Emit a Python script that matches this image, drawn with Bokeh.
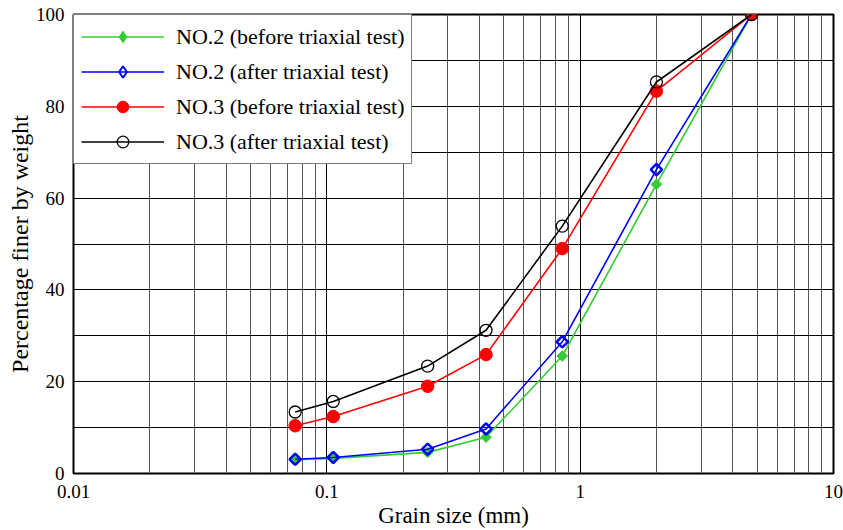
import numpy as np
from bokeh.plotting import figure
from bokeh.models import Range1d, FixedTicker, CustomJSTickFormatter, Legend, LegendItem
from bokeh.embed import file_html
from bokeh.resources import INLINE

# ---- data ----
grain_size = [0.075, 0.106, 0.25, 0.425, 0.85, 2.0, 4.75]
no2_before = [3.0, 3.3, 4.6, 7.9, 25.6, 63.0, 100.0]
no2_after = [3.1, 3.5, 5.3, 9.7, 28.7, 66.2, 100.0]
no3_before = [10.4, 12.4, 19.0, 25.9, 49.0, 83.3, 100.0]
no3_after = [13.4, 15.7, 23.4, 31.2, 53.9, 85.3, 100.0]

x_major = [0.01, 0.1, 1, 10]
x_minor = [m * d for d in [0.01, 0.1, 1] for m in range(2, 10)]
y_major = [0, 20, 40, 60, 80, 100]
y_minor = [10, 30, 50, 70, 90]

labels = ["NO.2 (before triaxial test)", "NO.2 (after triaxial test)",
          "NO.3 (before triaxial test)", "NO.3 (after triaxial test)"]

FONT = "Liberation Serif"

p = figure(width=843, height=530, x_axis_type="log",
           x_range=Range1d(0.01, 10), y_range=Range1d(0, 100),
           output_backend="svg", toolbar_location=None,
           min_border_left=73, min_border_right=10, min_border_top=14,
           min_border_bottom=5)

p.outline_line_color = "black"
p.outline_line_width = 2

p.xaxis.ticker = FixedTicker(ticks=x_major, minor_ticks=x_minor)
p.yaxis.ticker = FixedTicker(ticks=y_major, minor_ticks=y_minor)
p.xaxis.formatter = CustomJSTickFormatter(code="return String(parseFloat(tick.toPrecision(6)));")

for ax in (p.xaxis, p.yaxis):
    ax.axis_line_color = None
    ax.major_tick_in = 0
    ax.major_tick_out = 0
    ax.minor_tick_in = 0
    ax.minor_tick_out = 0
    ax.major_label_text_font = FONT
    ax.major_label_text_font_size = "19px"
    ax.major_label_text_color = "black"
    ax.axis_label_text_font = FONT
    ax.axis_label_text_font_style = "normal"
    ax.axis_label_text_color = "black"

p.xaxis.axis_label = "Grain size (mm)"
p.xaxis.axis_label_text_font_size = "23px"
p.xaxis.major_label_standoff = 11
p.xaxis.axis_label_standoff = 2
p.yaxis.axis_label = "Percentage finer by weight"
p.yaxis.axis_label_text_font_size = "24px"
p.yaxis.major_label_standoff = 9
p.yaxis.axis_label_standoff = 0

p.xgrid.grid_line_color = "black"
p.xgrid.grid_line_width = 1
p.xgrid.minor_grid_line_color = "#555555"
p.xgrid.minor_grid_line_width = 1
p.ygrid.grid_line_color = "black"
p.ygrid.grid_line_width = 1
p.ygrid.minor_grid_line_color = "black"
p.ygrid.minor_grid_line_width = 1

GREEN = "#33cc33"
BLUE = "#0000ff"
RED = "#ff0000"
BLACK = "#000000"

# NO.2 before
g_line = p.line(grain_size, no2_before, line_color=GREEN, line_width=1.6)
p.scatter(grain_size, no2_before, marker="square", angle=np.pi / 4, size=7.5,
          fill_color=GREEN, line_color=GREEN, line_width=1)
g_leg = p.scatter(grain_size, no2_before, marker="diamond", fill_color=GREEN,
                  line_color=GREEN, line_width=1, visible=False)

# NO.2 after
b_line = p.line(grain_size, no2_after, line_color=BLUE, line_width=1.6)
p.scatter(grain_size, no2_after, marker="square", angle=np.pi / 4, size=8,
          fill_color=None, line_color=BLUE, line_width=2.5)
b_leg = p.scatter(grain_size, no2_after, marker="diamond", fill_color=None,
                  line_color=BLUE, line_width=2, visible=False)

# NO.3 before
r_line = p.line(grain_size, no3_before, line_color=RED, line_width=1.6)
r_mk = p.scatter(grain_size, no3_before, marker="circle", size=12.5,
                 fill_color=RED, line_color=RED, line_width=1)

# NO.3 after
k_line = p.line(grain_size, no3_after, line_color=BLACK, line_width=1.6)
k_mk = p.scatter(grain_size, no3_after, marker="circle", size=12,
                 fill_color=None, line_color=BLACK, line_width=1.3)

legend = Legend(items=[
    LegendItem(label=labels[0], renderers=[g_line, g_leg]),
    LegendItem(label=labels[1], renderers=[b_line, b_leg]),
    LegendItem(label=labels[2], renderers=[r_line, r_mk]),
    LegendItem(label=labels[3], renderers=[k_line, k_mk]),
])
legend.location = "top_left"
legend.margin = 0
legend.padding = 7
legend.spacing = 6
legend.glyph_width = 83
legend.glyph_height = 29
legend.label_height = 29
legend.label_standoff = 12
legend.label_text_font = FONT
legend.label_text_font_size = "22px"
legend.label_text_color = "black"
legend.border_line_color = "black"
legend.border_line_width = 1
legend.background_fill_color = "white"
legend.background_fill_alpha = 1.0
p.add_layout(legend)

open("out.html", "w").write(file_html(p, INLINE))
